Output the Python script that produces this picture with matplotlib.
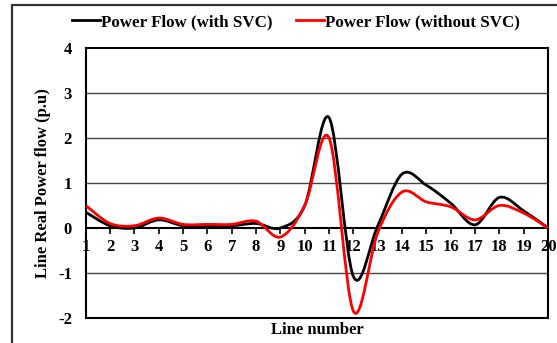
import numpy as np
import matplotlib
matplotlib.use("Agg")
import matplotlib.pyplot as plt
from matplotlib.path import Path
from matplotlib.patches import PathPatch, Rectangle
from matplotlib.lines import Line2D

plt.rcParams['font.family'] = ['Liberation Serif', 'DejaVu Serif']
plt.rcParams['font.weight'] = 'bold'
plt.rcParams['axes.unicode_minus'] = False

# data
line_no = np.arange(1, 21)
flow_with_svc = [0.35, 0.05, 0.0, 0.18, 0.05, 0.05, 0.05, 0.1, 0.0, 0.5,
                 2.45, -1.08, 0.05, 1.2, 0.95, 0.55, 0.07, 0.68, 0.38, 0.0]
flow_without_svc = [0.5, 0.1, 0.05, 0.22, 0.08, 0.08, 0.08, 0.15, -0.2, 0.5,
                    2.0, -1.85, -0.1, 0.8, 0.58, 0.47, 0.18, 0.5, 0.33, 0.0]
labels = ['Power Flow (with SVC)', 'Power Flow (without SVC)']
colors = ['black', '#ff0000']


def smooth_path(x, y):
    # Excel-style smoothed line: cubic bezier through every point
    x = np.asarray(x, float)
    y = np.asarray(y, float)
    pts = np.column_stack([x, y])
    n = len(pts)
    verts = [pts[0]]
    codes = [Path.MOVETO]
    for i in range(n - 1):
        p0 = pts[i - 1] if i > 0 else pts[i]
        p1 = pts[i]
        p2 = pts[i + 1]
        p3 = pts[i + 2] if i + 2 < n else pts[i + 1]
        c1 = p1 + (p2 - p0) / 6.0
        c2 = p2 - (p3 - p1) / 6.0
        verts += [c1, c2, p2]
        codes += [Path.CURVE4] * 3
    return Path(verts, codes)


fig = plt.figure(figsize=(5.57, 3.43), dpi=100)
ax = fig.add_axes([0.154, 0.073, 0.830, 0.787])

# outer frame around the chart
fig.patches.append(Rectangle((0.022, -0.05), 1.1, 1.035, transform=fig.transFigure,
                             fill=False, edgecolor='#333333', linewidth=1.6))

for yv in [1, 2, 3, -1]:
    ax.axhline(yv, color='#444444', linewidth=1.0, zorder=1)

for vals, c in zip([flow_with_svc, flow_without_svc], colors):
    ax.add_patch(PathPatch(smooth_path(line_no, vals), facecolor='none',
                           edgecolor=c, linewidth=2.0, zorder=3))

ax.set_xlim(1, 20)
ax.set_ylim(-2, 4)
ax.set_yticks([-2, -1, 0, 1, 2, 3, 4])
ax.set_xticks(line_no)
ax.spines['bottom'].set_position(('data', 0))
for s in ax.spines.values():
    s.set_linewidth(1.5)
ax.axhline(-2, color='black', linewidth=1.5, clip_on=False, zorder=2)
ax.tick_params(axis='x', direction='out', length=4, width=1.2, labelsize=12, pad=4)
ax.tick_params(axis='y', length=0, labelsize=12, pad=10)

ax.set_ylabel('Line Real Power flow (p.u)', fontsize=12, fontweight='bold')
ax.yaxis.set_label_coords(-0.076, 0.5)
ax.text(0.5, -0.045, 'Line number', transform=ax.transAxes, ha='center', va='center',
        fontsize=12, fontweight='bold')

handles = [Line2D([], [], color=c, linewidth=2.0) for c in colors]
fig.legend(handles, labels, loc='center', bbox_to_anchor=(0.532, 0.935), ncol=2,
           frameon=False, fontsize=12.2, handlelength=1.6, handletextpad=0.1,
           columnspacing=1.4)

fig.savefig('out.png', dpi=100)
